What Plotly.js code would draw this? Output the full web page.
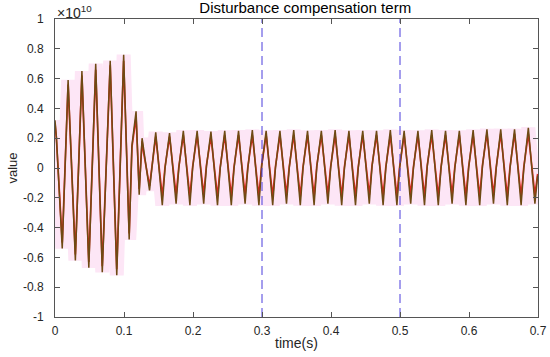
<!DOCTYPE html>
<html>
<head>
<meta charset="utf-8">
<script src="https://cdn.plot.ly/plotly-3.0.1.min.js"></script>
<style>
html,body{margin:0;padding:0;background:#fff;}
#chart{width:550px;height:357px;}
</style>
</head>
<body>
<div id="chart"></div>
<script>
// time stamps of the waveform vertices (s)
const time = [
  0, 0.002, 0.0105, 0.019, 0.0295, 0.039, 0.049, 0.059, 0.0685, 0.080, 0.0895, 0.0995,
  0.1075, 0.1115, 0.1175, 0.122, 0.1262, 0.1285, 0.137,
  0.146, 0.1555, 0.1595,
  0.166, 0.1755, 0.1795,
  0.186, 0.1955, 0.1995,
  0.206, 0.2155, 0.2195,
  0.226, 0.2355, 0.2395,
  0.246, 0.2555, 0.2595,
  0.266, 0.2755, 0.2795,
  0.286, 0.2955, 0.2995,
  0.306, 0.3155, 0.3195,
  0.326, 0.3355, 0.3395,
  0.346, 0.3555, 0.3595,
  0.366, 0.3755, 0.3795,
  0.386, 0.3955, 0.3995,
  0.406, 0.4155, 0.4195,
  0.426, 0.4355, 0.4395,
  0.446, 0.4555, 0.4595,
  0.466, 0.4755, 0.4795,
  0.486, 0.4955, 0.4995,
  0.506, 0.5155, 0.5195,
  0.526, 0.5355, 0.5395,
  0.546, 0.5555, 0.5595,
  0.566, 0.5755, 0.5795,
  0.586, 0.5955, 0.5995,
  0.606, 0.6155, 0.6195,
  0.626, 0.6355, 0.6395,
  0.646, 0.6555, 0.6595,
  0.666, 0.6755, 0.6795,
  0.686, 0.6955, 0.6995
];

// estimated compensation term (x 1e10) - dark trace
const estimate = [
  0.32, 0.21, -0.54, 0.59, -0.62, 0.65, -0.67, 0.70, -0.70, 0.72, -0.72, 0.76,
  -0.48, 0.15, 0.38, -0.18, 0.20, 0.12, -0.15,
  0.24, -0.25, 0.00,
  0.235, -0.24, 0.00,
  0.25, -0.25, 0.00,
  0.25, -0.24, 0.01,
  0.245, -0.25, 0.00,
  0.25, -0.25, 0.00,
  0.25, -0.24, 0.00,
  0.255, -0.25, 0.01,
  0.25, -0.25, 0.00,
  0.25, -0.24, 0.00,
  0.255, -0.25, 0.00,
  0.25, -0.25, 0.01,
  0.25, -0.24, 0.00,
  0.255, -0.25, 0.00,
  0.25, -0.25, 0.00,
  0.25, -0.24, 0.01,
  0.25, -0.25, 0.00,
  0.255, -0.25, 0.00,
  0.25, -0.24, 0.00,
  0.25, -0.25, 0.01,
  0.255, -0.25, 0.00,
  0.25, -0.24, 0.00,
  0.25, -0.25, 0.00,
  0.255, -0.25, 0.01,
  0.26, -0.24, 0.00,
  0.26, -0.25, 0.00,
  0.26, -0.25, 0.00,
  0.27, -0.24, -0.05
];

// actual disturbance (x 1e10) - red trace
const actual = [
  0.30, 0.20, -0.50, 0.56, -0.58, 0.62, -0.63, 0.66, -0.66, 0.69, -0.68, 0.72,
  -0.44, 0.14, 0.34, -0.14, 0.18, 0.10, -0.12,
  0.21, -0.19, 0.01,
  0.21, -0.18, 0.01,
  0.22, -0.19, 0.01,
  0.22, -0.18, 0.02,
  0.21, -0.19, 0.01,
  0.22, -0.19, 0.01,
  0.22, -0.18, 0.01,
  0.22, -0.19, 0.02,
  0.22, -0.19, 0.01,
  0.22, -0.18, 0.01,
  0.22, -0.19, 0.01,
  0.22, -0.19, 0.02,
  0.22, -0.18, 0.01,
  0.22, -0.19, 0.01,
  0.22, -0.19, 0.01,
  0.22, -0.18, 0.02,
  0.22, -0.19, 0.01,
  0.22, -0.19, 0.01,
  0.22, -0.18, 0.01,
  0.22, -0.19, 0.02,
  0.22, -0.19, 0.01,
  0.22, -0.18, 0.01,
  0.22, -0.19, 0.01,
  0.22, -0.19, 0.02,
  0.23, -0.18, 0.01,
  0.23, -0.19, 0.01,
  0.23, -0.19, 0.01,
  0.23, -0.18, -0.04
];

const eventTimes = [0.3, 0.5];
const xRange = [0, 0.7];
const yRange = [-1, 1];
const xTicks = [0, 0.1, 0.2, 0.3, 0.4, 0.5, 0.6, 0.7];
const xTickText = ['0', '0.1', '0.2', '0.3', '0.4', '0.5', '0.6', '0.7'];
const yTicks = [-1, -0.8, -0.6, -0.4, -0.2, 0, 0.2, 0.4, 0.6, 0.8, 1];
const yTickText = ['-1', '-0.8', '-0.6', '-0.4', '-0.2', '0', '0.2', '0.4', '0.6', '0.8', '1'];

const FONT = 'Liberation Sans, Arial, Helvetica, sans-serif';
const INK = '#262626';

const traces = [
  { x: time, y: estimate, mode: 'lines', line: { color: '#fde6f6', width: 14 }, hoverinfo: 'skip', showlegend: false },
  { x: time, y: actual, mode: 'lines', line: { color: '#e3261c', width: 1.7 }, showlegend: false },
  { x: time, y: estimate, mode: 'lines', line: { color: '#6e4a14', width: 1.5 }, showlegend: false }
];
eventTimes.forEach(t => {
  traces.push({ x: [t, t], y: yRange, mode: 'lines',
    line: { color: '#4a3cdc', width: 1, dash: '9px,5px' }, hoverinfo: 'skip', showlegend: false });
});

const axisCommon = {
  showline: true, mirror: 'ticks', linecolor: '#555', linewidth: 1,
  ticks: 'inside', ticklen: 5, tickcolor: '#555', tickwidth: 1,
  showgrid: false, zeroline: false,
  tickfont: { family: FONT, size: 12, color: INK }
};

const layout = {
  width: 550, height: 357,
  margin: { l: 55, r: 12, t: 19, b: 40 },
  paper_bgcolor: '#fff', plot_bgcolor: '#fff',
  font: { family: FONT, color: INK },
  title: { text: 'Disturbance compensation term', font: { family: FONT, size: 15, color: '#000' },
    x: 0.555, xanchor: 'center', y: 0.978, yanchor: 'middle' },
  xaxis: Object.assign({}, axisCommon, { range: xRange, tickvals: xTicks, ticktext: xTickText,
    ticklabelstandoff: 3,
    title: { text: 'time(s)', font: { family: FONT, size: 14, color: INK }, standoff: 0 } }),
  yaxis: Object.assign({}, axisCommon, { range: yRange, tickvals: yTicks, ticktext: yTickText,
    ticklabelstandoff: 8,
    title: { text: 'value', font: { family: FONT, size: 13, color: INK }, standoff: 2 } }),
  annotations: [{
    text: '×10<sup>10</sup>', xref: 'paper', yref: 'paper', x: 0, y: 1,
    xanchor: 'left', yanchor: 'bottom', showarrow: false, yshift: -4,
    font: { family: FONT, size: 14, color: INK }
  }]
};

Plotly.newPlot('chart', traces, layout, { displayModeBar: false, staticPlot: true });
</script>
</body>
</html>
